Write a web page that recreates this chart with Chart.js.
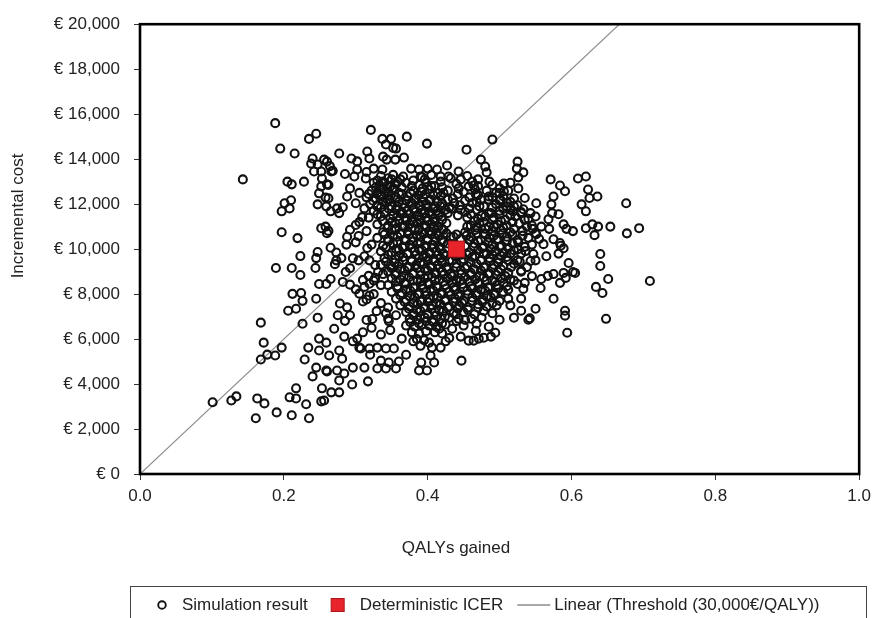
<!DOCTYPE html>
<html>
<head>
<meta charset="utf-8">
<script src="https://cdn.jsdelivr.net/npm/chart.js@4.4.0/dist/chart.umd.min.js"></script>
<style>
  html, body { margin: 0; padding: 0; background: #fff; }
  #wrap { width: 877px; height: 618px; overflow: hidden; }
</style>
</head>
<body>
<div id="wrap"><canvas id="chart" width="877" height="618"></canvas></div>
<script>
// ---- data (QALYs gained, incremental cost in thousand €) ----
const xTickValues = [0, 0.2, 0.4, 0.6, 0.8, 1.0];
const xTickLabels = ['0.0', '0.2', '0.4', '0.6', '0.8', '1.0'];
const yTickValues = [0, 2, 4, 6, 8, 10, 12, 14, 16, 18, 20];
const yTickLabels = ['€ 0', '€ 2,000', '€ 4,000', '€ 6,000', '€ 8,000', '€ 10,000',
                     '€ 12,000', '€ 14,000', '€ 16,000', '€ 18,000', '€ 20,000'];
const thresholdPerQaly = 30;          // 30,000 €/QALY
const thresholdQaly = [0, 1];
const icerPoint = [[0.44, 10.0]];

// simulation results, region by region
const simOuterLow = [
  [0.101,3.19],[0.127,3.27],[0.134,3.45],[0.163,3.36],[0.173,3.14],[0.161,2.48],[0.19,2.74],[0.211,2.61],
  [0.235,2.48],[0.217,3.81],[0.208,3.41],[0.217,3.36],[0.231,3.1],[0.253,3.81],[0.252,3.23],[0.168,6.73],
  [0.226,6.68],[0.247,6.95],[0.172,5.84],[0.197,5.62],[0.168,5.09],[0.177,5.31],[0.188,5.27],[0.234,5.62],
  [0.229,5.09],[0.249,6.02],[0.259,5.84],[0.249,5.49],[0.245,4.73],[0.24,4.34],[0.259,4.6],
  [0.27,6.46],[0.285,6.81],[0.284,6.11],[0.263,5.27],[0.277,5.49],[0.281,5.13],[0.26,4.56],[0.274,4.6],
  [0.284,4.47],[0.296,4.73],[0.277,4.16],[0.266,3.63],[0.277,3.63],[0.256,3.27],[0.295,3.98],[0.317,4.12],
  [0.305,5.62],[0.312,4.73],[0.302,6.02],[0.33,4.69],[0.342,4.69],[0.356,4.69],[0.346,4.96],[0.335,5.04],
  [0.391,4.96],[0.388,4.6],[0.399,4.6],[0.409,4.96],[0.404,5.27],[0.406,5.62],[0.418,5.62],[0.402,5.84],
  [0.434,6.46],[0.416,6.46],[0.364,6.02],[0.353,5.58],[0.342,5.58],[0.33,5.62],[0.319,5.58],[0.307,5.58],
  [0.31,6.3],[0.322,6.5],[0.335,6.2],[0.348,6.4],[0.315,6.85],[0.345,6.9],[0.38,5.9],[0.39,5.7],
  [0.37,5.3],[0.36,5.0],[0.32,5.3],[0.296,5.9],[0.425,5.9],
  [0.443,6.9],[0.461,6.9],[0.475,6.95],[0.5,6.86],[0.54,6.86],[0.591,7.04],[0.594,6.28],[0.446,6.11],
  [0.457,5.93],[0.464,5.93],[0.471,6.02],[0.478,6.06],[0.488,6.11],[0.494,6.28],[0.467,6.37],[0.468,6.68],
  [0.447,5.04],[0.45,6.6],[0.485,6.55]
];
const simOuterLeft = [
  [0.143,13.1],[0.188,15.6],[0.245,15.13],[0.235,14.9],[0.195,14.47],[0.215,14.25],[0.24,14.03],[0.238,13.8],
  [0.247,13.76],[0.256,13.98],[0.242,13.45],[0.252,13.45],[0.253,13.14],[0.205,13.0],[0.211,12.88],[0.228,13.0],
  [0.252,12.79],[0.249,12.48],[0.201,12.04],[0.21,12.17],[0.197,11.68],[0.208,11.81],[0.247,11.99],[0.259,11.9],
  [0.197,10.75],[0.219,10.49],[0.252,10.93],[0.258,11.0],[0.26,10.71],[0.223,9.69],[0.247,9.87],[0.245,9.6],
  [0.189,9.16],[0.211,9.16],[0.223,8.85],[0.244,9.16],[0.249,8.45],[0.259,8.45],[0.212,8.01],[0.224,8.05],
  [0.226,7.7],[0.245,7.79],[0.206,7.26],[0.217,7.35],
  [0.264,13.69],[0.268,13.48],[0.262,12.85],[0.258,12.29],[0.265,11.68],[0.277,11.6],[0.282,11.86],[0.262,10.81],
  [0.275,7.06],[0.278,7.58],[0.265,8.67],[0.271,9.33],[0.273,9.5],[0.282,8.54],[0.286,8.98],[0.292,8.42],
  [0.3,8.21],[0.265,10.06],[0.273,9.85],[0.287,10.2],[0.288,10.55],[0.292,10.86],[0.3,11.07],[0.304,10.58],
  [0.288,7.41],[0.292,7.06],[0.31,7.67],[0.315,7.76],[0.319,7.93],[0.305,8.02],[0.312,8.32],[0.319,8.46],
  [0.31,8.63],[0.318,8.81],[0.327,8.72],[0.331,8.98],[0.338,8.89],[0.327,9.29],[0.319,9.5],[0.312,9.68],
  [0.304,9.5],[0.296,9.59],[0.292,9.15],[0.323,6.89],[0.329,7.24],[0.342,7.15],[0.356,7.06],[0.346,6.8],
  [0.305,11.2],[0.3,10.3],[0.316,10.05],[0.28,9.6],[0.325,8.0],[0.335,7.6],[0.345,7.4],[0.335,8.4],[0.325,8.6]
];
const simOuterTop = [
  [0.321,15.3],[0.337,14.9],[0.349,14.9],[0.342,14.65],[0.352,14.5],[0.371,15.0],[0.399,14.69],[0.277,14.25],
  [0.316,14.34],[0.294,14.03],[0.302,13.9],[0.319,14.03],[0.338,14.11],[0.343,13.98],[0.355,13.98],[0.367,14.07],
  [0.356,14.47],[0.26,13.89],[0.266,13.45],[0.302,13.54],[0.325,13.58],[0.337,13.54],[0.366,13.23],[0.377,13.58],
  [0.388,13.54],[0.4,13.58],[0.413,13.54],[0.427,13.72],[0.429,13.23],[0.418,13.23],[0.39,13.23],[0.298,13.23],
  [0.26,12.88],[0.292,12.7],[0.314,13.14],[0.262,12.26],[0.288,12.34],[0.3,12.04],[0.274,11.81],[0.312,11.81],
  [0.33,11.9],[0.305,12.5],[0.309,11.42],[0.315,13.43],[0.285,13.34],
  [0.454,14.42],[0.49,14.87],[0.474,13.98],[0.48,13.67],[0.482,13.41],[0.443,13.45],[0.525,13.89],[0.524,13.58],
  [0.533,13.41],[0.526,13.19],[0.526,12.7],[0.571,13.1],[0.584,12.83],[0.591,12.57],[0.575,12.34],[0.572,11.99],
  [0.551,12.04],[0.535,12.27],[0.609,13.14],[0.62,13.23],[0.614,11.99],[0.506,12.92],[0.486,13.0],[0.464,12.83],
  [0.446,13.1],[0.457,12.79],[0.443,12.7],[0.467,12.43],[0.485,12.34],[0.506,12.57],[0.501,12.21],[0.51,11.9],
  [0.533,11.77],[0.543,11.6],[0.519,11.68],[0.623,12.65],[0.625,12.27],[0.636,12.34],[0.62,11.68],[0.676,12.04]
];
const simOuterRight = [
  [0.582,11.55],[0.568,11.33],[0.589,11.1],[0.602,10.8],[0.593,10.9],[0.558,11.0],[0.551,10.66],[0.561,10.22],
  [0.575,10.44],[0.584,10.27],[0.589,10.04],[0.596,9.38],[0.605,8.94],[0.589,8.94],[0.575,8.89],[0.584,8.5],
  [0.558,8.67],[0.557,8.27],[0.575,7.79],[0.591,7.26],[0.55,7.35],[0.53,7.26],[0.533,8.23],[0.543,9.47],
  [0.547,9.78],[0.536,9.91],[0.62,10.93],[0.629,11.1],[0.637,11.0],[0.632,10.62],[0.654,11.0],[0.677,10.7],
  [0.694,10.93],[0.64,9.78],[0.64,9.25],[0.651,8.67],[0.634,8.32],[0.643,8.05],[0.709,8.58],[0.648,6.9],
  [0.602,8.98],[0.592,8.72],[0.542,6.92],[0.567,8.81],[0.582,9.8],[0.585,10.15],[0.569,10.9],[0.546,10.9],
  [0.565,9.68],[0.55,9.5],[0.573,11.6],[0.55,11.45],[0.555,10.45],[0.545,10.2],[0.53,9.0],[0.545,8.8],
  [0.535,8.5],[0.53,7.8],[0.515,7.5],[0.52,6.95]
];
const simCore = [
  [0.335,13.25],[0.345,13.15],[0.352,13.3],[0.362,13.1],[0.392,13.2],[0.405,13.3],[0.432,13.15],[0.455,13.25],[0.47,13.1],
  [0.325,12.95],[0.333,12.85],[0.34,12.95],[0.348,12.8],[0.356,12.9],[0.37,12.95],[0.388,12.85],[0.398,12.95],[0.41,12.8],[0.44,12.9],[0.462,13.0],[0.49,12.85],[0.515,12.95],
  [0.322,12.6],[0.33,12.5],[0.338,12.65],[0.345,12.55],[0.352,12.65],[0.36,12.5],[0.38,12.6],[0.392,12.55],[0.402,12.65],[0.414,12.5],[0.428,12.6],[0.45,12.55],[0.466,12.65],[0.482,12.6],[0.5,12.5],[0.512,12.6],
  [0.315,12.3],[0.328,12.25],[0.336,12.35],[0.344,12.2],[0.356,12.3],[0.372,12.35],[0.384,12.25],[0.394,12.3],[0.404,12.2],[0.418,12.35],[0.435,12.25],[0.458,12.3],[0.474,12.2],[0.49,12.3],[0.505,12.35],[0.52,12.25],
  [0.32,12.0],[0.33,11.95],[0.342,12.05],[0.35,11.9],[0.365,12.0],[0.378,12.05],[0.388,11.95],[0.398,12.0],[0.41,11.9],[0.42,12.05],[0.445,11.95],[0.462,12.05],[0.478,11.9],[0.495,12.0],[0.51,12.05],[0.525,11.95],
  [0.325,11.7],[0.34,11.65],[0.356,11.75],[0.362,11.6],[0.372,11.7],[0.383,11.65],[0.392,11.75],[0.402,11.6],[0.413,11.7],[0.425,11.75],[0.452,11.65],[0.468,11.75],[0.485,11.6],[0.5,11.7],[0.515,11.75],[0.53,11.65],
  [0.318,11.4],[0.335,11.45],[0.348,11.35],[0.358,11.45],[0.368,11.4],[0.378,11.3],[0.388,11.45],[0.398,11.4],[0.408,11.35],[0.42,11.45],[0.455,11.4],[0.47,11.35],[0.48,11.45],[0.492,11.4],[0.508,11.3],[0.522,11.45],[0.54,11.35],
  [0.33,11.1],[0.345,11.05],[0.355,11.15],[0.365,11.0],[0.375,11.1],[0.385,11.15],[0.395,11.05],[0.405,11.1],[0.415,11.0],[0.426,11.15],[0.46,11.05],[0.472,11.15],[0.485,11.0],[0.497,11.1],[0.51,11.05],[0.527,11.15],[0.545,11.05],
  [0.315,10.8],[0.338,10.75],[0.35,10.85],[0.362,10.7],[0.372,10.8],[0.382,10.85],[0.392,10.75],[0.402,10.8],[0.412,10.7],[0.422,10.85],[0.452,10.75],[0.466,10.85],[0.478,10.7],[0.49,10.8],[0.502,10.85],[0.515,10.75],[0.532,10.8],[0.55,10.7],
  [0.33,10.5],[0.345,10.45],[0.358,10.55],[0.368,10.4],[0.38,10.5],[0.39,10.55],[0.4,10.45],[0.41,10.5],[0.42,10.4],[0.432,10.55],[0.446,10.45],[0.46,10.55],[0.474,10.4],[0.486,10.5],[0.498,10.45],[0.51,10.55],[0.525,10.4],[0.54,10.5],
  [0.322,10.2],[0.338,10.15],[0.352,10.25],[0.365,10.1],[0.375,10.2],[0.386,10.25],[0.396,10.15],[0.406,10.2],[0.416,10.1],[0.428,10.25],[0.452,10.15],[0.465,10.25],[0.478,10.1],[0.49,10.2],[0.503,10.15],[0.518,10.25],[0.535,10.1],
  [0.335,9.9],[0.35,9.85],[0.36,9.95],[0.372,9.8],[0.382,9.9],[0.392,9.95],[0.402,9.85],[0.412,9.9],[0.422,9.8],[0.458,9.85],[0.47,9.95],[0.482,9.8],[0.494,9.9],[0.506,9.85],[0.52,9.95],[0.53,9.8],
  [0.34,9.6],[0.355,9.55],[0.366,9.65],[0.378,9.5],[0.388,9.6],[0.398,9.65],[0.408,9.55],[0.418,9.6],[0.43,9.5],[0.45,9.55],[0.462,9.65],[0.474,9.5],[0.486,9.6],[0.498,9.55],[0.51,9.65],[0.525,9.5],
  [0.335,9.3],[0.348,9.25],[0.36,9.35],[0.372,9.2],[0.384,9.3],[0.394,9.35],[0.404,9.25],[0.414,9.3],[0.426,9.2],[0.44,9.35],[0.455,9.25],[0.468,9.35],[0.48,9.2],[0.492,9.3],[0.505,9.25],[0.52,9.35],[0.538,9.2],
  [0.345,9.0],[0.356,8.95],[0.368,9.05],[0.38,8.9],[0.39,9.0],[0.4,9.05],[0.41,8.95],[0.42,9.0],[0.432,8.9],[0.446,9.05],[0.46,8.95],[0.474,9.05],[0.486,8.9],[0.498,9.0],[0.512,8.95],[0.53,9.05],
  [0.35,8.7],[0.362,8.65],[0.374,8.75],[0.386,8.6],[0.396,8.7],[0.406,8.75],[0.416,8.65],[0.428,8.7],[0.44,8.6],[0.452,8.75],[0.466,8.65],[0.478,8.75],[0.49,8.6],[0.502,8.7],[0.515,8.65],
  [0.345,8.4],[0.358,8.35],[0.37,8.45],[0.38,8.3],[0.392,8.4],[0.402,8.45],[0.412,8.35],[0.424,8.4],[0.436,8.3],[0.448,8.45],[0.46,8.35],[0.472,8.45],[0.484,8.3],[0.496,8.4],[0.51,8.35],[0.525,8.45],
  [0.35,8.1],[0.364,8.05],[0.376,8.15],[0.388,8.0],[0.398,8.1],[0.408,8.15],[0.418,8.05],[0.43,8.1],[0.442,8.0],[0.455,8.15],[0.468,8.05],[0.48,8.15],[0.492,8.0],[0.505,8.1],
  [0.356,7.8],[0.37,7.75],[0.382,7.85],[0.392,7.7],[0.402,7.8],[0.414,7.85],[0.425,7.75],[0.438,7.8],[0.45,7.7],[0.462,7.85],[0.476,7.75],[0.488,7.85],[0.5,7.7],[0.512,7.8],
  [0.362,7.5],[0.375,7.45],[0.386,7.55],[0.396,7.4],[0.406,7.5],[0.418,7.55],[0.43,7.45],[0.444,7.5],[0.456,7.4],[0.47,7.55],[0.482,7.45],[0.496,7.5],
  [0.37,7.2],[0.38,7.15],[0.39,7.25],[0.4,7.1],[0.41,7.2],[0.422,7.25],[0.436,7.15],[0.45,7.2],[0.465,7.1],[0.478,7.25],[0.49,7.15],
  [0.375,6.9],[0.386,6.85],[0.396,6.95],[0.406,6.8],[0.418,6.9],[0.43,6.95],[0.452,6.85],
  [0.37,6.6],[0.382,6.55],[0.392,6.65],[0.402,6.6],[0.412,6.55],[0.425,6.65],
  [0.378,6.3],[0.388,6.25],[0.398,6.35],[0.41,6.3],[0.42,6.25],
  [0.385,6.0],[0.395,5.95],[0.43,6.05],
  [0.433,11.8],[0.442,11.5],[0.437,12.05],[0.446,11.75],[0.436,10.55],[0.447,9.75],[0.438,9.7]
];
// second, staggered layer of the dense centre
const simCoreInner = [
  [0.33,13.05],[0.338,13.0],[0.35,13.1],[0.358,13.0],[0.38,13.05],[0.396,13.1],[0.418,13.0],
  [0.328,12.75],[0.336,12.7],[0.344,12.8],[0.352,12.7],[0.364,12.75],[0.378,12.8],[0.393,12.7],[0.405,12.8],[0.42,12.75],[0.47,12.8],[0.5,12.7],
  [0.318,12.45],[0.334,12.4],[0.341,12.5],[0.349,12.4],[0.364,12.45],[0.376,12.5],[0.387,12.4],[0.397,12.45],[0.408,12.4],[0.422,12.5],[0.442,12.45],[0.47,12.4],[0.495,12.5],
  [0.324,12.15],[0.338,12.1],[0.347,12.2],[0.36,12.1],[0.37,12.15],[0.382,12.2],[0.392,12.1],[0.402,12.15],[0.414,12.1],[0.428,12.2],[0.452,12.15],[0.468,12.1],[0.485,12.2],[0.5,12.15],[0.515,12.1],
  [0.335,11.85],[0.346,11.8],[0.358,11.9],[0.368,11.85],[0.38,11.8],[0.39,11.9],[0.4,11.85],[0.408,11.8],[0.418,11.9],[0.43,11.85],[0.458,11.8],[0.472,11.9],[0.49,11.85],[0.505,11.8],[0.52,11.9],
  [0.33,11.55],[0.352,11.5],[0.365,11.6],[0.375,11.55],[0.386,11.5],[0.396,11.6],[0.405,11.55],[0.415,11.5],[0.428,11.6],[0.46,11.55],[0.475,11.5],[0.488,11.6],[0.5,11.55],[0.515,11.5],[0.53,11.6],
  [0.338,11.25],[0.35,11.2],[0.36,11.3],[0.37,11.25],[0.38,11.2],[0.39,11.3],[0.4,11.25],[0.41,11.2],[0.42,11.3],[0.465,11.25],[0.478,11.2],[0.49,11.3],[0.502,11.25],[0.518,11.2],[0.535,11.3],
  [0.344,10.95],[0.356,10.9],[0.368,11.0],[0.378,10.95],[0.388,10.9],[0.398,11.0],[0.408,10.95],[0.42,10.9],[0.455,11.0],[0.468,10.95],[0.48,10.9],[0.492,11.0],[0.505,10.95],[0.52,10.9],[0.538,11.0],
  [0.34,10.65],[0.352,10.6],[0.362,10.7],[0.374,10.65],[0.385,10.6],[0.395,10.7],[0.405,10.65],[0.415,10.6],[0.426,10.7],[0.44,10.65],[0.454,10.6],[0.468,10.7],[0.48,10.65],[0.492,10.6],[0.504,10.7],[0.518,10.65],[0.532,10.6],
  [0.345,10.35],[0.358,10.3],[0.37,10.4],[0.38,10.35],[0.39,10.3],[0.4,10.4],[0.41,10.35],[0.422,10.3],[0.458,10.4],[0.47,10.35],[0.484,10.3],[0.496,10.4],[0.51,10.35],[0.526,10.3],
  [0.342,10.05],[0.356,10.0],[0.368,10.1],[0.378,10.05],[0.388,10.0],[0.398,10.1],[0.408,10.05],[0.418,10.0],[0.464,10.1],[0.476,10.05],[0.488,10.0],[0.5,10.1],[0.512,10.05],[0.526,10.0],
  [0.345,9.75],[0.36,9.7],[0.372,9.8],[0.384,9.75],[0.394,9.7],[0.404,9.8],[0.414,9.75],[0.425,9.7],[0.438,9.8],[0.455,9.75],[0.466,9.7],[0.478,9.8],[0.49,9.75],[0.502,9.7],[0.515,9.8],
  [0.342,9.45],[0.354,9.4],[0.366,9.5],[0.378,9.45],[0.39,9.4],[0.4,9.5],[0.41,9.45],[0.42,9.4],[0.434,9.5],[0.447,9.45],[0.46,9.4],[0.474,9.5],[0.486,9.45],[0.498,9.4],[0.512,9.5],[0.528,9.45],
  [0.35,9.15],[0.362,9.1],[0.374,9.2],[0.386,9.15],[0.396,9.1],[0.406,9.2],[0.416,9.15],[0.428,9.1],[0.44,9.2],[0.452,9.15],[0.465,9.1],[0.478,9.2],[0.49,9.15],[0.502,9.1],[0.516,9.2],
  [0.355,8.85],[0.367,8.8],[0.38,8.9],[0.39,8.85],[0.4,8.8],[0.412,8.9],[0.422,8.85],[0.434,8.8],[0.447,8.9],[0.46,8.85],[0.472,8.8],[0.484,8.9],[0.496,8.85],[0.508,8.8],
  [0.356,8.55],[0.368,8.5],[0.38,8.6],[0.39,8.55],[0.4,8.5],[0.41,8.6],[0.422,8.55],[0.434,8.5],[0.446,8.6],[0.458,8.55],[0.47,8.5],[0.482,8.6],[0.494,8.55],[0.506,8.5],[0.52,8.6],
  [0.358,8.25],[0.37,8.2],[0.382,8.3],[0.394,8.25],[0.404,8.2],[0.414,8.3],[0.426,8.25],[0.438,8.2],[0.45,8.3],[0.462,8.25],[0.474,8.2],[0.486,8.3],[0.498,8.25],[0.512,8.2],
  [0.362,7.95],[0.375,7.9],[0.386,8.0],[0.397,7.95],[0.408,7.9],[0.42,8.0],[0.432,7.95],[0.444,7.9],[0.456,8.0],[0.468,7.95],[0.482,7.9],[0.494,8.0],
  [0.368,7.65],[0.38,7.6],[0.39,7.7],[0.4,7.65],[0.412,7.6],[0.424,7.7],[0.436,7.65],[0.448,7.6],[0.462,7.7],[0.476,7.65],[0.49,7.6],
  [0.374,7.35],[0.385,7.3],[0.395,7.4],[0.405,7.35],[0.416,7.3],[0.428,7.4],[0.442,7.35],[0.456,7.3],[0.47,7.4],
  [0.38,7.05],[0.39,7.0],[0.4,7.1],[0.412,7.05],[0.424,7.0],[0.44,7.1],
  [0.376,6.75],[0.388,6.7],[0.398,6.8],[0.408,6.75],[0.42,6.7],[0.44,6.8]
];

const simPoints = [].concat(simOuterLow, simOuterLeft, simOuterTop, simOuterRight, simCore, simCoreInner);
const toXY = arr => arr.map(p => ({ x: p[0], y: p[1] }));

const FONT = "'Liberation Sans', Arial, sans-serif";
Chart.defaults.font.family = FONT;
Chart.defaults.font.size = 17;
Chart.defaults.color = '#222';

// frame around the plot, axis titles and boxed legend (drawn like the original)
const framePlugin = {
  id: 'frameLegend',
  afterDraw(chart) {
    const { ctx, chartArea: a } = chart;
    const ds = chart.data.datasets;
    ctx.save();
    ctx.strokeStyle = '#000';
    ctx.lineWidth = 2.6;
    ctx.strokeRect(a.left, a.top, a.right - a.left, a.bottom - a.top);

    ctx.fillStyle = '#222';
    ctx.font = '17px ' + FONT;
    ctx.textAlign = 'center';
    ctx.textBaseline = 'middle';
    ctx.fillText('QALYs gained', 456, 548);
    ctx.save();
    ctx.translate(18, 216);
    ctx.rotate(-Math.PI / 2);
    ctx.fillText('Incremental cost', 0, 0);
    ctx.restore();

    // legend
    ctx.strokeStyle = '#444';
    ctx.lineWidth = 1;
    ctx.strokeRect(130.5, 586.5, 736, 60);
    const cy = 605;
    ctx.textAlign = 'left';
    let x = 162;
    ctx.beginPath();
    ctx.arc(x, cy, 3.8, 0, Math.PI * 2);
    ctx.lineWidth = 1.9;
    ctx.strokeStyle = ds[0].borderColor;
    ctx.stroke();
    x += 20;
    ctx.fillText(ds[0].label, x, cy);
    x += ctx.measureText(ds[0].label).width + 30;
    ctx.fillStyle = ds[1].backgroundColor;
    ctx.fillRect(x - 6.5, cy - 6.5, 13, 13);
    ctx.strokeStyle = ds[1].borderColor;
    ctx.lineWidth = 1;
    ctx.strokeRect(x - 6.5, cy - 6.5, 13, 13);
    ctx.fillStyle = '#222';
    x += 22;
    ctx.fillText(ds[1].label, x, cy);
    x += ctx.measureText(ds[1].label).width + 14;
    ctx.beginPath();
    ctx.moveTo(x, cy);
    ctx.lineTo(x + 33, cy);
    ctx.strokeStyle = ds[2].borderColor;
    ctx.lineWidth = 1.3;
    ctx.stroke();
    x += 37;
    ctx.fillText(ds[2].label, x, cy);
    ctx.restore();
  }
};

new Chart(document.getElementById('chart'), {
  type: 'scatter',
  data: {
    datasets: [
      {
        label: 'Simulation result',
        data: toXY(simPoints),
        pointStyle: 'circle',
        pointRadius: 4,
        pointBorderWidth: 2.1,
        borderColor: '#111',
        backgroundColor: 'rgba(0,0,0,0)',
        order: 1
      },
      {
        label: 'Deterministic ICER',
        data: toXY(icerPoint),
        pointStyle: 'rect',
        pointRadius: 11.3,
        pointBorderWidth: 1,
        borderColor: '#a8161c',
        backgroundColor: '#e8232a',
        order: 0
      },
      {
        label: 'Linear (Threshold (30,000€/QALY))',
        data: thresholdQaly.map(q => ({ x: q, y: q * thresholdPerQaly })),
        showLine: true,
        borderColor: '#8c8c8c',
        borderWidth: 1.2,
        pointRadius: 0,
        order: 2
      }
    ]
  },
  options: {
    responsive: false,
    animation: false,
    events: [],
    layout: { padding: { top: 22, right: 15, bottom: 49, left: 0 } },
    plugins: { legend: { display: false }, tooltip: { enabled: false } },
    scales: {
      x: {
        type: 'linear', min: 0, max: 1,
        afterBuildTicks: s => { s.ticks = xTickValues.map(v => ({ value: v })); },
        afterFit: s => { s.height = 95; },
        ticks: { callback: (v, i) => xTickLabels[i], padding: 6, maxRotation: 0 },
        grid: { drawOnChartArea: false, drawTicks: true, tickLength: 6, color: '#333' },
        border: { display: false }
      },
      y: {
        type: 'linear', min: 0, max: 20,
        afterBuildTicks: s => { s.ticks = yTickValues.map(v => ({ value: v })); },
        afterFit: s => { s.width = 140; },
        ticks: { callback: (v, i) => yTickLabels[i], padding: 14 },
        grid: { drawOnChartArea: false, drawTicks: true, tickLength: 6, color: '#333' },
        border: { display: false }
      }
    }
  },
  plugins: [framePlugin]
});
</script>
</body>
</html>
